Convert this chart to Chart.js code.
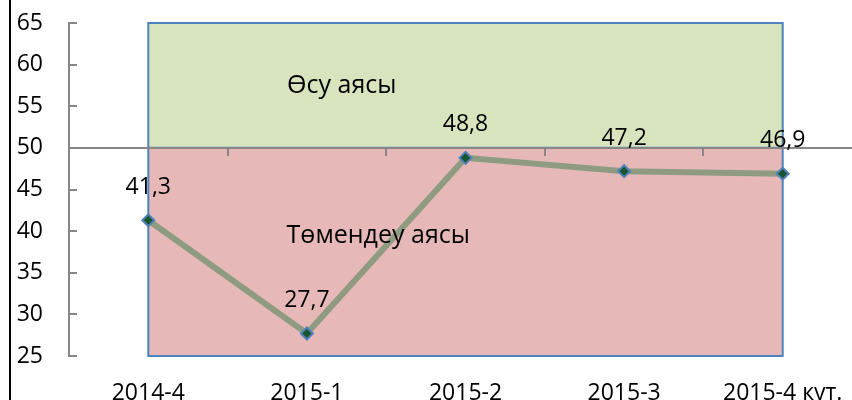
<!DOCTYPE html>
<html lang="kk">
<head>
<meta charset="utf-8">
<title>Өсу / төмендеу аясы</title>
<script src="https://cdn.jsdelivr.net/npm/chart.js@4.4.1/dist/chart.umd.min.js"></script>
<style>
    html, body { margin: 0; padding: 0; background: #fff; }
    body { width: 852px; height: 400px; overflow: hidden; position: relative; }
    #graphique { position: absolute; left: 0; top: 0; }
    #cadre { position: absolute; left: 9px; top: 0; width: 2px; height: 400px; background: #000; }
</style>
</head>
<body>
<canvas id="graphique" width="870" height="400"></canvas>
<div id="cadre"></div>
<script>
// Données du graphique
const periodes = ['2014-4', '2015-1', '2015-2', '2015-3', '2015-4 кут.'];
const valeurs = [41.3, 27.7, 48.8, 47.2, 46.9];
const graduationsY = [25, 30, 35, 40, 45, 50, 55, 60, 65];
const seuil = 50;
const zoneCroissance = [50, 65];
const zoneDeclin = [25, 50];
const nomsZones = ['Өсу аясы', 'Төмендеу аясы'];

const GRIS = '#868686';
const BLEU = '#4f81bd';

// Formatage à la virgule
function formatValeur(v) {
    return v.toFixed(1).replace('.', ',');
}

// Dessin d'un rectangle de zone (fond + bordure)
function dessinerZone(ctx, x, y, zone, couleur) {
    const gauche = x.getPixelForValue(0);
    const droite = x.getPixelForValue(periodes.length - 1);
    const haut = y.getPixelForValue(zone[1]);
    const bas = y.getPixelForValue(zone[0]);
    ctx.fillStyle = couleur;
    ctx.fillRect(gauche, haut, droite - gauche, bas - haut);
    ctx.strokeStyle = BLEU;
    ctx.lineWidth = 2;
    ctx.strokeRect(gauche, haut, droite - gauche, bas - haut);
}

const pluginZones = {
    id: 'zones',
    beforeDraw(chart) {
        const { ctx, scales: { x, y } } = chart;
        ctx.save();
        dessinerZone(ctx, x, y, zoneCroissance, '#d7e4bd');
        dessinerZone(ctx, x, y, zoneDeclin, '#e6b9b8');
        ctx.restore();
    },
    afterDatasetsDraw(chart) {
        const { ctx, scales: { x, y } } = chart;
        ctx.save();
        ctx.fillStyle = '#000';
        ctx.textAlign = 'center';
        ctx.textBaseline = 'alphabetic';
        // Noms des zones
        ctx.font = '25px "Open Sans", sans-serif';
        ctx.fillText(nomsZones[0], x.getPixelForValue(1.22), y.getPixelForValue(56.6));
        ctx.fillText(nomsZones[1], x.getPixelForValue(1.45), y.getPixelForValue(38.6));
        // Étiquettes des points
        ctx.font = '23px "Open Sans", sans-serif';
        ctx.textBaseline = 'middle';
        chart.getDatasetMeta(0).data.forEach((pt, i) => {
            ctx.fillText(formatValeur(valeurs[i]), pt.x, pt.y - 33);
        });
        ctx.restore();
    }
};

document.addEventListener('DOMContentLoaded', () => {
    Chart.defaults.font.family = '"Open Sans", sans-serif';
    Chart.defaults.font.size = 23;
    Chart.defaults.color = '#000';

    new Chart(document.getElementById('graphique'), {
        type: 'line',
        data: {
            labels: periodes,
            datasets: [{
                data: valeurs,
                borderColor: '#8e9b80',
                borderWidth: 6,
                tension: 0,
                pointStyle: 'rectRot',
                pointRadius: 6,
                pointBorderWidth: 2,
                pointBackgroundColor: '#1b5530',
                pointBorderColor: BLEU
            }]
        },
        options: {
            responsive: false,
            animation: false,
            events: [],
            layout: { padding: { top: 23, right: 0, bottom: 0, left: 0 } },
            plugins: {
                legend: { display: false },
                tooltip: { enabled: false }
            },
            scales: {
                x: {
                    type: 'category',
                    position: 'bottom',
                    offset: true,
                    afterFit(scale) { scale.height = 44; },
                    grid: { display: false },
                    border: { display: false },
                    ticks: { padding: 16, maxRotation: 0, autoSkip: false }
                },
                // Axe horizontal qui coupe à 50
                xSeuil: {
                    type: 'category',
                    labels: periodes,
                    position: { y: seuil },
                    offset: true,
                    grid: {
                        offset: true,
                        drawOnChartArea: false,
                        tickLength: 7,
                        color: GRIS,
                        lineWidth: 2
                    },
                    border: { color: GRIS, width: 2 },
                    ticks: { display: false }
                },
                y: {
                    min: graduationsY[0],
                    max: graduationsY[graduationsY.length - 1],
                    afterBuildTicks(scale) {
                        scale.ticks = graduationsY.map(v => ({ value: v }));
                    },
                    afterFit(scale) {
                        scale.width = 69;
                        scale.paddingTop = 0;
                        scale.paddingBottom = 0;
                    },
                    grid: {
                        drawOnChartArea: false,
                        tickLength: -8,
                        color: GRIS,
                        lineWidth: 2
                    },
                    border: { color: GRIS, width: 2 },
                    ticks: { padding: 34 }
                }
            }
        },
        plugins: [pluginZones]
    });
});
</script>
</body>
</html>
